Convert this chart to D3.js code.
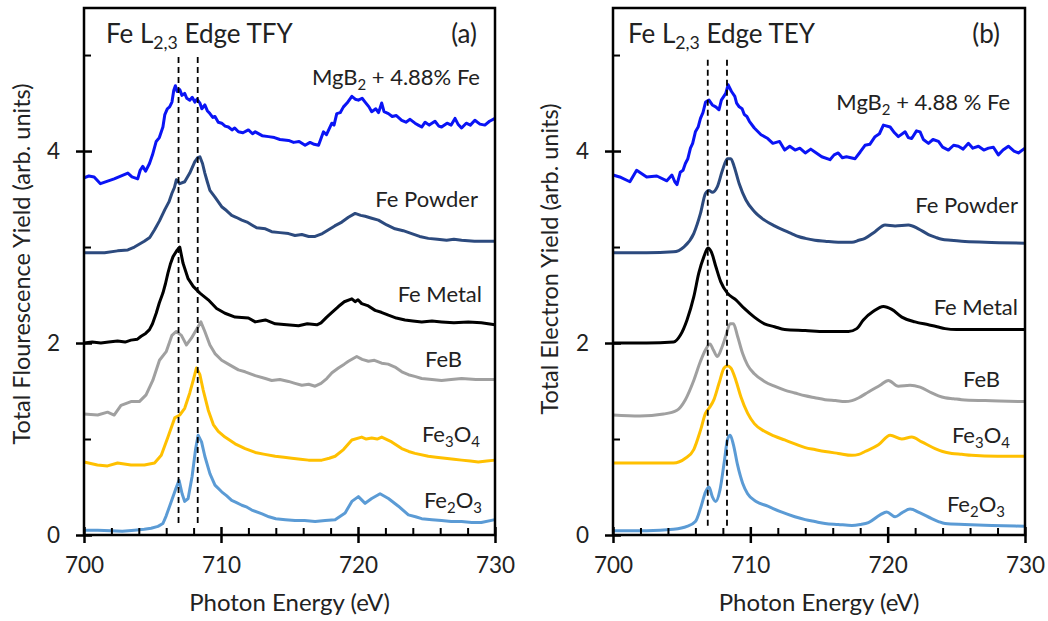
<!DOCTYPE html>
<html>
<head>
<meta charset="utf-8">
<script src="https://cdn.jsdelivr.net/npm/d3@7"></script>
<style>
  html, body { margin: 0; padding: 0; background: #fff; }
  svg { display: block; }
  text { font-family: Lato, "Open Sans", sans-serif; fill: #222; }
</style>
</head>
<body>
<svg id="chart" width="1048" height="621"></svg>
<script>
// ---------- Data: Fe L2,3 edge spectra, [photon energy (eV), yield (offset, arb. units)] ----------
const tfyMgB2 = [[700,3.72],[700.35,3.74],[700.74,3.73],[701.2,3.66],[702.2,3.71],[703.2,3.77],[703.5,3.73],[703.92,3.71],[704.1,3.8],[704.29,3.84],[704.5,3.79],[704.78,3.87],[705.0,3.96],[705.27,4.10],[705.5,4.14],[705.76,4.25],[705.9,4.38],[706.08,4.44],[706.25,4.46],[706.42,4.51],[706.55,4.63],[706.67,4.68],[706.8,4.62],[706.99,4.64],[707.15,4.58],[707.35,4.60],[707.5,4.55],[707.72,4.53],[707.9,4.56],[708.09,4.51],[708.25,4.54],[708.46,4.50],[708.6,4.44],[708.82,4.48],[709.0,4.42],[709.19,4.39],[709.4,4.35],[709.56,4.36],[709.8,4.30],[710.05,4.29],[710.3,4.26],[710.54,4.25],[710.8,4.22],[711.0,4.24],[711.27,4.20],[711.6,4.19],[712.0,4.22],[712.3,4.18],[712.5,4.20],[713.0,4.16],[713.47,4.15],[713.9,4.14],[714.3,4.12],[714.93,4.11],[715.3,4.09],[715.7,4.10],[716.14,4.06],[716.5,4.09],[716.8,4.07],[717.12,4.06],[717.3,4.13],[717.48,4.20],[717.7,4.17],[718.09,4.29],[718.25,4.27],[718.45,4.39],[718.7,4.40],[718.94,4.46],[719.2,4.50],[719.55,4.57],[719.8,4.54],[720.03,4.53],[720.3,4.55],[720.52,4.51],[720.8,4.46],[721.0,4.41],[721.3,4.44],[721.5,4.40],[721.73,4.50],[721.9,4.41],[722.22,4.39],[722.5,4.36],[722.8,4.37],[723.19,4.32],[723.5,4.30],[723.8,4.33],[724.16,4.29],[724.4,4.27],[724.65,4.25],[724.9,4.30],[725.2,4.27],[725.62,4.31],[725.9,4.26],[726.1,4.25],[726.5,4.29],[726.8,4.27],[727.08,4.34],[727.3,4.28],[727.56,4.24],[727.9,4.29],[728.2,4.27],[728.53,4.32],[728.9,4.28],[729.26,4.27],[729.6,4.31],[730,4.34]];
const tfyPowder = [[700,2.94],[701.5,2.94],[702.45,2.96],[703.2,2.97],[703.68,3.00],[704.4,3.06],[704.8,3.10],[705.15,3.18],[705.5,3.27],[705.9,3.39],[706.2,3.47],[706.42,3.56],[706.6,3.62],[706.74,3.70],[706.99,3.66],[707.35,3.68],[707.72,3.77],[708.09,3.89],[708.3,3.93],[708.46,3.94],[708.65,3.87],[708.82,3.77],[709.0,3.68],[709.19,3.59],[709.56,3.52],[710.05,3.42],[710.4,3.38],[710.78,3.33],[711.1,3.31],[711.52,3.28],[711.9,3.26],[712.25,3.23],[712.6,3.20],[713.24,3.19],[713.7,3.16],[714.3,3.15],[714.93,3.14],[715.4,3.12],[715.9,3.13],[716.4,3.11],[716.87,3.11],[717.4,3.14],[717.85,3.18],[718.3,3.22],[718.82,3.26],[719.3,3.31],[719.79,3.35],[720.2,3.33],[720.52,3.32],[721.0,3.30],[721.49,3.28],[722.1,3.23],[722.7,3.19],[723.3,3.17],[723.92,3.14],[724.5,3.11],[725.13,3.09],[725.8,3.08],[726.47,3.07],[727.0,3.08],[727.56,3.07],[728.5,3.06],[729.2,3.06],[730,3.06]];
const tfyMetal = [[700,2.00],[700.6,2.01],[701.23,2.00],[701.8,2.01],[702.45,2.02],[703.0,2.01],[703.43,2.03],[703.9,2.04],[704.17,2.07],[704.5,2.10],[704.78,2.14],[705.0,2.20],[705.27,2.31],[705.5,2.42],[705.76,2.52],[705.95,2.62],[706.13,2.73],[706.3,2.82],[706.5,2.90],[706.81,2.97],[706.99,3.00],[707.23,2.83],[707.6,2.67],[707.97,2.59],[708.46,2.52],[709.07,2.45],[709.68,2.36],[710.29,2.31],[711.03,2.27],[712.0,2.26],[712.5,2.22],[713.24,2.24],[713.96,2.20],[714.8,2.19],[715.66,2.18],[716.3,2.20],[717.0,2.19],[717.3,2.21],[717.72,2.27],[718.1,2.32],[718.57,2.38],[719.0,2.43],[719.55,2.46],[719.79,2.43],[720.0,2.45],[720.27,2.41],[720.7,2.39],[721.25,2.34],[721.7,2.32],[722.22,2.29],[722.8,2.26],[723.43,2.24],[724.0,2.23],[724.65,2.22],[725.4,2.23],[726.1,2.22],[727.0,2.21],[728.05,2.22],[729.0,2.21],[730,2.19]];
const tfyFeB = [[700,1.26],[701.0,1.25],[701.72,1.28],[702.2,1.25],[702.7,1.35],[703.43,1.39],[704.04,1.39],[704.53,1.46],[705.02,1.61],[705.51,1.82],[706.0,1.91],[706.42,2.08],[706.74,2.12],[707.11,2.08],[707.48,1.98],[707.84,2.05],[708.21,2.14],[708.53,2.22],[708.82,2.12],[709.19,1.98],[709.56,1.89],[710.05,1.82],[710.66,1.77],[711.27,1.72],[711.76,1.70],[712.5,1.66],[713.24,1.63],[713.7,1.61],[714.3,1.62],[714.93,1.60],[715.4,1.58],[715.9,1.56],[716.4,1.57],[716.87,1.55],[717.3,1.58],[717.72,1.63],[718.1,1.69],[718.57,1.74],[719.0,1.78],[719.3,1.81],[719.91,1.86],[720.3,1.83],[720.76,1.81],[721.2,1.82],[721.73,1.79],[722.2,1.78],[722.7,1.75],[723.2,1.70],[723.68,1.67],[724.2,1.65],[724.65,1.63],[725.4,1.62],[726.1,1.61],[726.8,1.62],[727.56,1.63],[728.6,1.62],[730,1.62]];
const tfyFe3O4 = [[700,0.76],[700.98,0.73],[701.72,0.72],[702.45,0.75],[703.43,0.73],[704.41,0.73],[705.15,0.75],[705.64,0.83],[706.13,1.02],[706.62,1.22],[706.99,1.25],[707.35,1.32],[707.72,1.48],[707.97,1.61],[708.21,1.74],[708.46,1.67],[708.7,1.51],[709.07,1.30],[709.44,1.15],[709.8,1.08],[710.29,1.02],[711.03,0.95],[711.76,0.90],[712.5,0.86],[713.2,0.84],[713.96,0.82],[714.6,0.81],[715.17,0.80],[715.8,0.79],[716.39,0.78],[717.36,0.78],[717.9,0.80],[718.33,0.82],[718.94,0.89],[719.55,0.99],[720.27,1.02],[720.6,1.00],[721.0,1.01],[721.4,1.00],[721.73,1.02],[722.46,0.97],[723.19,0.90],[723.7,0.87],[724.16,0.85],[725.13,0.82],[725.7,0.81],[726.35,0.80],[727.0,0.79],[727.56,0.78],[728.2,0.77],[728.78,0.76],[729.4,0.77],[730,0.78]];
const tfyFe2O3 = [[700,0.05],[701.0,0.05],[701.96,0.045],[702.8,0.04],[703.68,0.05],[704.4,0.06],[704.9,0.07],[705.4,0.09],[705.76,0.12],[706.0,0.20],[706.25,0.30],[706.45,0.38],[706.67,0.47],[706.94,0.57],[707.16,0.43],[707.35,0.35],[707.6,0.38],[707.89,0.61],[708.14,0.89],[708.33,1.04],[708.58,0.97],[708.82,0.82],[709.19,0.64],[709.56,0.52],[710.05,0.45],[710.4,0.41],[710.78,0.36],[711.1,0.34],[711.52,0.31],[711.9,0.29],[712.25,0.26],[713.0,0.22],[713.5,0.19],[714.0,0.17],[714.7,0.16],[715.4,0.15],[716.1,0.15],[716.87,0.14],[717.6,0.15],[718.33,0.16],[719.06,0.23],[719.55,0.35],[720.03,0.40],[720.52,0.33],[721.0,0.38],[721.61,0.43],[722.22,0.38],[722.95,0.30],[723.68,0.21],[724.2,0.19],[724.65,0.17],[725.4,0.16],[726.1,0.15],[726.8,0.14],[727.56,0.14],[728.3,0.13],[729.0,0.13],[730,0.16]];

const teyMgB2 = [[700,3.75],[700.49,3.73],[701.23,3.68],[701.72,3.80],[702.45,3.73],[703.19,3.74],[703.92,3.69],[704.29,3.75],[704.5,3.68],[704.66,3.65],[704.9,3.78],[705.1,3.80],[705.27,3.87],[705.45,3.92],[705.64,4.03],[705.8,4.08],[706.0,4.20],[706.2,4.25],[706.37,4.34],[706.55,4.40],[706.74,4.51],[706.99,4.53],[707.23,4.48],[707.48,4.46],[707.72,4.43],[707.89,4.53],[708.21,4.60],[708.38,4.69],[708.63,4.62],[708.87,4.57],[709.0,4.50],[709.19,4.46],[709.4,4.44],[709.56,4.38],[709.75,4.36],[709.93,4.31],[710.29,4.24],[710.78,4.17],[711.27,4.13],[711.64,4.08],[712.13,4.10],[712.5,4.01],[712.87,4.05],[713.26,4.01],[713.6,4.03],[714.0,3.98],[714.4,4.02],[714.7,3.99],[715.2,3.94],[715.8,3.91],[716.1,3.96],[716.4,3.98],[716.7,3.93],[717.0,3.94],[717.63,3.92],[718.0,3.99],[718.35,4.06],[718.7,4.07],[719.08,4.15],[719.4,4.18],[719.69,4.27],[720.18,4.25],[720.5,4.19],[720.78,4.15],[721.27,4.20],[721.5,4.14],[721.75,4.13],[722.1,4.21],[722.36,4.20],[722.6,4.12],[722.97,4.08],[723.3,4.12],[723.7,4.10],[724.0,4.04],[724.42,4.01],[724.8,4.06],[725.15,4.05],[725.5,4.02],[725.88,4.08],[726.2,4.03],[726.61,4.05],[727.0,4.01],[727.34,4.03],[727.7,4.04],[728.06,3.96],[728.4,4.01],[728.79,4.05],[729.2,4.00],[729.52,3.98],[730,4.03]];
const teyPowder = [[700,2.94],[702.45,2.94],[704.41,2.95],[705.15,3.00],[705.88,3.14],[706.37,3.35],[706.74,3.56],[706.99,3.59],[707.23,3.57],[707.6,3.63],[707.97,3.80],[708.33,3.92],[708.58,3.92],[708.82,3.84],[709.19,3.66],[709.68,3.49],[710.29,3.37],[711.03,3.28],[711.76,3.22],[712.5,3.17],[713.0,3.14],[713.5,3.11],[714.0,3.09],[714.7,3.07],[715.44,3.06],[716.4,3.05],[717.4,3.05],[717.9,3.07],[718.35,3.09],[719.08,3.16],[719.81,3.23],[720.54,3.22],[721.51,3.23],[722.24,3.19],[722.97,3.13],[723.5,3.10],[723.94,3.08],[724.6,3.07],[725.39,3.06],[727.1,3.05],[730,3.04]];
const teyMetal = [[700,2.00],[702.45,2.00],[704.41,2.01],[704.9,2.08],[705.39,2.24],[705.88,2.48],[706.25,2.73],[706.62,2.90],[706.91,2.99],[707.16,2.95],[707.48,2.80],[707.84,2.64],[708.33,2.52],[708.95,2.45],[709.56,2.36],[710.29,2.27],[711.03,2.20],[711.76,2.17],[712.5,2.14],[714.0,2.13],[715.44,2.12],[717.14,2.12],[717.75,2.15],[718.23,2.24],[718.96,2.33],[719.69,2.38],[720.3,2.35],[721.03,2.27],[722.0,2.22],[722.97,2.19],[723.6,2.17],[724.18,2.15],[725.0,2.14],[725.88,2.14],[728.0,2.14],[730,2.14]];
const teyFeB = [[700,1.25],[701.96,1.24],[703.68,1.26],[704.66,1.30],[705.27,1.41],[705.88,1.61],[706.37,1.81],[706.74,1.93],[707.06,1.99],[707.3,1.93],[707.6,1.86],[707.89,1.94],[708.21,2.07],[708.53,2.20],[708.77,2.20],[709.07,2.07],[709.44,1.89],[709.8,1.77],[710.29,1.68],[711.03,1.60],[711.76,1.55],[712.5,1.51],[713.24,1.48],[714.0,1.45],[714.7,1.43],[715.44,1.41],[716.2,1.40],[716.9,1.39],[717.4,1.40],[717.9,1.43],[718.6,1.49],[719.45,1.56],[720.05,1.61],[720.78,1.55],[721.63,1.56],[722.36,1.54],[723.21,1.48],[723.7,1.45],[724.18,1.43],[724.8,1.42],[725.39,1.41],[727.1,1.40],[730,1.39]];
const teyFe3O4 = [[700,0.75],[702.45,0.75],[704.41,0.75],[705.27,0.80],[705.88,0.89],[706.37,1.09],[706.74,1.27],[706.99,1.32],[707.35,1.41],[707.72,1.58],[708.09,1.74],[708.33,1.76],[708.58,1.74],[708.95,1.61],[709.31,1.44],[709.8,1.27],[710.29,1.16],[711.03,1.08],[711.76,1.03],[712.5,0.99],[713.24,0.95],[714.0,0.91],[714.7,0.89],[715.44,0.87],[716.4,0.85],[717.4,0.83],[717.9,0.84],[718.35,0.87],[719.33,0.94],[720.18,1.04],[721.03,1.00],[721.75,1.02],[722.48,0.97],[723.45,0.90],[724.0,0.87],[724.67,0.85],[725.4,0.84],[726.1,0.83],[728.0,0.82],[730,0.82]];
const teyFe2O3 = [[700,0.045],[702.45,0.045],[704.41,0.06],[705.39,0.09],[706.0,0.14],[706.42,0.30],[706.74,0.45],[706.99,0.50],[707.23,0.40],[707.48,0.35],[707.79,0.47],[708.09,0.75],[708.33,0.99],[708.53,1.04],[708.77,0.94],[709.07,0.73],[709.44,0.54],[709.8,0.43],[710.42,0.35],[711.27,0.30],[712.25,0.24],[713.24,0.19],[714.0,0.16],[714.7,0.14],[715.44,0.12],[716.4,0.11],[717.4,0.10],[718.0,0.11],[718.6,0.13],[719.45,0.21],[719.93,0.24],[720.54,0.19],[721.03,0.23],[721.63,0.27],[722.36,0.23],[723.21,0.17],[723.7,0.14],[724.18,0.12],[725.6,0.11],[727.6,0.10],[730,0.09]];

// Axis ticks and reference energies
const xMajorTicks = [700, 710, 720, 730];
const xMinorTicks = [702, 704, 706, 708, 712, 714, 716, 718, 722, 724, 726, 728];
const yMajorTicks = [0, 2, 4];
const yMinorTicks = [1, 3, 5];
const edgeLines = [706.9, 708.3];

const colors = {
  mgb2: "#0a14f5", powder: "#2c4a7e", metal: "#000000",
  feb: "#a0a0a0", fe3o4: "#ffc000", fe2o3: "#5b9bd5"
};

// Panels: series, labels and text positions
const panels = [
  {
    left: 84, right: 495, tag: "(a)", method: "TFY",
    ylabel: "Total Flourescence Yield (arb. units)", ylabelX: 30, ylabelY: 264,
    edgeTop: 4.98, edgeBottom: 0.1,
    series: [
      { data: tfyMgB2, color: colors.mgb2, smooth: false },
      { data: tfyPowder, color: colors.powder, smooth: false },
      { data: tfyMetal, color: colors.metal, smooth: false },
      { data: tfyFeB, color: colors.feb, smooth: false },
      { data: tfyFe3O4, color: colors.fe3o4, smooth: false },
      { data: tfyFe2O3, color: colors.fe2o3, smooth: false }
    ],
    labels: [
      { parts: [["MgB", 0], ["2", 1], [" + 4.88% Fe", 0]], x: 480, y: 85 },
      { parts: [["Fe Powder", 0]], x: 478, y: 207 },
      { parts: [["Fe Metal", 0]], x: 482, y: 302 },
      { parts: [["FeB", 0]], x: 462, y: 367 },
      { parts: [["Fe", 0], ["3", 1], ["O", 0], ["4", 1]], x: 480, y: 442 },
      { parts: [["Fe", 0], ["2", 1], ["O", 0], ["3", 1]], x: 482, y: 508 }
    ],
    titleX: 106, tagX: 477
  },
  {
    left: 613, right: 1025, tag: "(b)", method: "TEY",
    ylabel: "Total Electron Yield (arb. units)", ylabelX: 558, ylabelY: 259,
    edgeTop: 4.95, edgeBottom: 0.07,
    series: [
      { data: teyMgB2, color: colors.mgb2, smooth: false },
      { data: teyPowder, color: colors.powder, smooth: true },
      { data: teyMetal, color: colors.metal, smooth: true },
      { data: teyFeB, color: colors.feb, smooth: true },
      { data: teyFe3O4, color: colors.fe3o4, smooth: true },
      { data: teyFe2O3, color: colors.fe2o3, smooth: true }
    ],
    labels: [
      { parts: [["MgB", 0], ["2", 1], [" + 4.88 % Fe", 0]], x: 1010, y: 110 },
      { parts: [["Fe Powder", 0]], x: 1018, y: 213 },
      { parts: [["Fe Metal", 0]], x: 1018, y: 315 },
      { parts: [["FeB", 0]], x: 1000, y: 387 },
      { parts: [["Fe", 0], ["3", 1], ["O", 0], ["4", 1]], x: 1010, y: 443 },
      { parts: [["Fe", 0], ["2", 1], ["O", 0], ["3", 1]], x: 1005, y: 512 }
    ],
    titleX: 628, tagX: 1000
  }
];

const svg = d3.select("#chart");
const plotTop = 8, plotBottom = 535;
const yDomain = [0, 5.49];

// Write text made of normal and subscript parts
function richText(sel, parts, size) {
  parts.forEach(([txt, sub], i) => {
    const prevSub = i > 0 && parts[i - 1][1];
    const ts = sel.append("tspan").text(txt);
    if (sub) {
      ts.attr("font-size", size * 0.68).attr("dy", prevSub ? 0 : size * 0.22);
    } else if (prevSub) {
      ts.attr("dy", -size * 0.22);
    }
  });
}

panels.forEach(p => {
  const x = d3.scaleLinear().domain([700, 730]).range([p.left, p.right]);
  const y = d3.scaleLinear().domain(yDomain).range([plotBottom, plotTop]);
  const g = svg.append("g");

  // Spectra
  p.series.forEach(s => {
    const line = d3.line()
      .x(d => x(d[0])).y(d => y(d[1]))
      .curve(s.smooth ? d3.curveMonotoneX : d3.curveLinear);
    g.append("path").datum(s.data)
      .attr("d", line)
      .attr("fill", "none")
      .attr("stroke", s.color)
      .attr("stroke-width", 3)
      .attr("stroke-linejoin", "round");
  });

  // Dashed reference lines at the L3 features
  g.selectAll("line.edge").data(edgeLines).join("line")
    .attr("class", "edge")
    .attr("x1", d => x(d)).attr("x2", d => x(d))
    .attr("y1", y(p.edgeTop)).attr("y2", y(p.edgeBottom))
    .attr("stroke", "#000").attr("stroke-width", 1.8)
    .attr("stroke-dasharray", "6,4");

  // Frame
  g.append("rect")
    .attr("x", p.left).attr("y", plotTop)
    .attr("width", p.right - p.left).attr("height", plotBottom - plotTop)
    .attr("fill", "none").attr("stroke", "#000").attr("stroke-width", 2.5);

  // Bottom axis: major ticks cross the axis line, minor ticks point inwards
  const xAxis = d3.axisBottom(x).tickValues(xMajorTicks).tickSize(8).tickPadding(14)
    .tickFormat(d3.format("d"));
  const gx = g.append("g").attr("transform", `translate(0,${plotBottom})`).call(xAxis);
  gx.select(".domain").remove();
  gx.selectAll(".tick line").attr("y1", -8).attr("y2", 8).attr("stroke-width", 2.5);
  gx.selectAll(".tick text").attr("font-size", 22.5).attr("font-family", "Lato").attr("fill", "#222");
  g.append("g").attr("transform", `translate(0,${plotBottom})`)
    .call(d3.axisBottom(x).tickValues(xMinorTicks).tickSizeInner(-7).tickSizeOuter(0).tickFormat(""))
    .call(a => a.select(".domain").remove())
    .selectAll(".tick line").attr("stroke-width", 2);

  // Left axis
  const yAxis = d3.axisLeft(y).tickValues(yMajorTicks).tickSize(8).tickPadding(16)
    .tickFormat(d3.format("d"));
  const gy = g.append("g").attr("transform", `translate(${p.left},0)`).call(yAxis);
  gy.select(".domain").remove();
  gy.selectAll(".tick line").attr("x1", -8).attr("x2", 8).attr("stroke-width", 2.5);
  gy.selectAll(".tick text").attr("font-size", 22.5).attr("font-family", "Lato").attr("fill", "#222");
  g.append("g").attr("transform", `translate(${p.left},0)`)
    .call(d3.axisLeft(y).tickValues(yMinorTicks).tickSizeInner(-7).tickSizeOuter(0).tickFormat(""))
    .call(a => a.select(".domain").remove())
    .selectAll(".tick line").attr("stroke-width", 2);

  // Axis titles
  g.append("text")
    .attr("x", (p.left + p.right) / 2).attr("y", 611)
    .attr("text-anchor", "middle").attr("font-size", 24)
    .text("Photon Energy (eV)");
  g.append("text")
    .attr("transform", `translate(${p.ylabelX},${p.ylabelY}) rotate(-90)`)
    .attr("text-anchor", "middle").attr("font-size", 23.5)
    .text(p.ylabel);

  // Panel title and tag
  const t = g.append("text").attr("x", p.titleX).attr("y", 43).attr("font-size", 26);
  richText(t, [["Fe L", 0], ["2,3", 1], [" Edge " + p.method, 0]], 26);
  g.append("text").attr("x", p.tagX).attr("y", 43)
    .attr("text-anchor", "end").attr("font-size", 26).text(p.tag);

  // Series labels
  p.labels.forEach(l => {
    const lt = g.append("text").attr("x", l.x).attr("y", l.y)
      .attr("text-anchor", "end").attr("font-size", 22);
    richText(lt, l.parts, 22);
  });
});
</script>
</body>
</html>
